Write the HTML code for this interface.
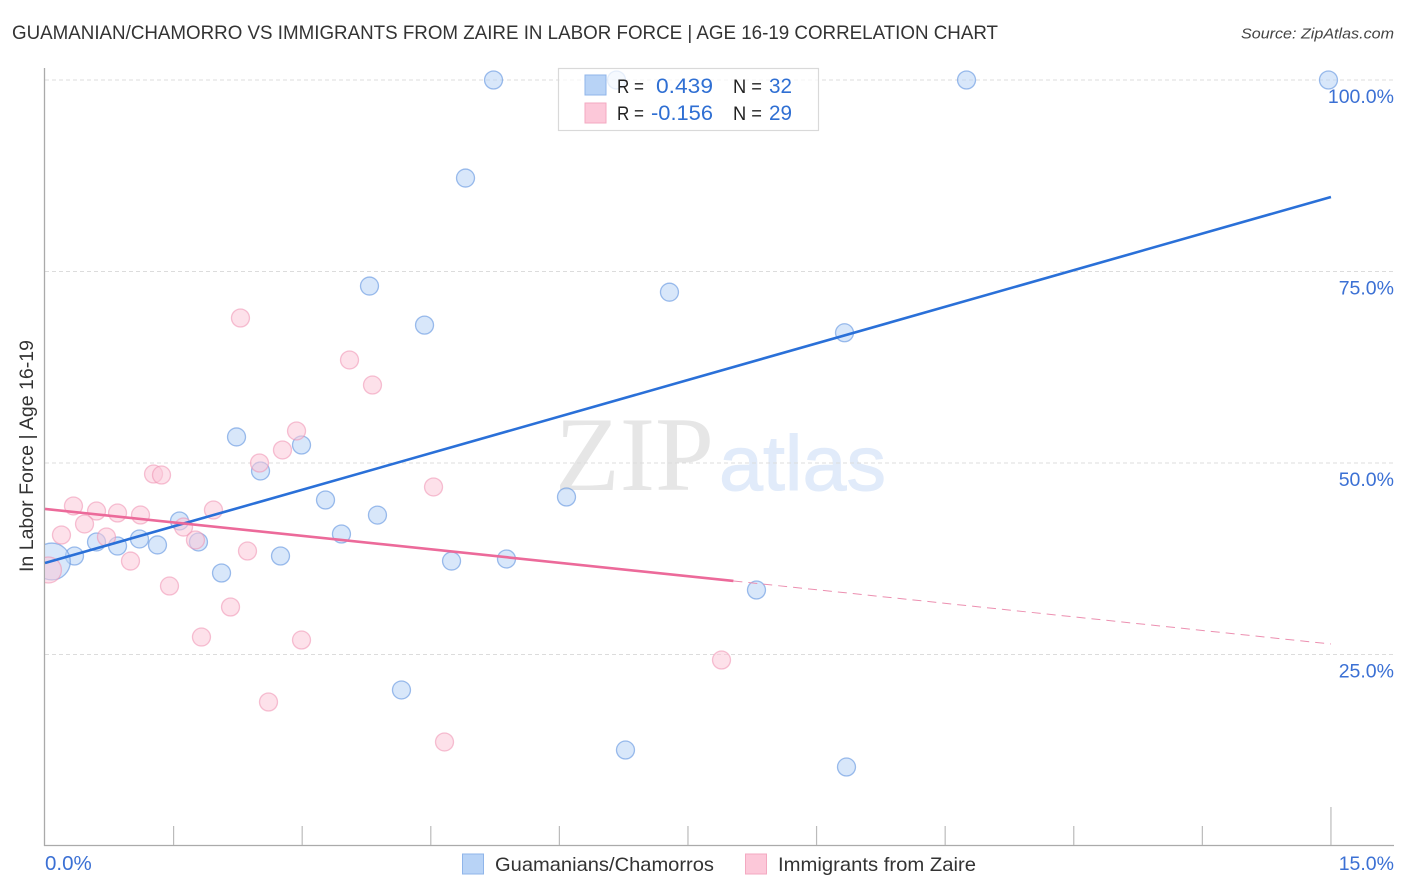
<!DOCTYPE html>
<html>
<head>
<meta charset="utf-8">
<title>Guamanian/Chamorro vs Immigrants from Zaire in Labor Force</title>
<style>
html,body{margin:0;padding:0;background:#fff;width:1406px;height:892px;overflow:hidden}
svg{display:block;font-family:"Liberation Sans",sans-serif}
</style>
</head>
<body>
<svg id="chart" width="1406" height="892" viewBox="0 0 1406 892" xmlns="http://www.w3.org/2000/svg">
  <defs>
    <clipPath id="plot-clip"><rect x="45" y="60" width="1349" height="786"/></clipPath>
  </defs>
  <text x="12" y="39" font-size="19" fill="#333" textLength="986" lengthAdjust="spacingAndGlyphs">GUAMANIAN/CHAMORRO VS IMMIGRANTS FROM ZAIRE IN LABOR FORCE | AGE 16-19 CORRELATION CHART</text>
  <text x="1241" y="38.5" font-size="15" font-style="italic" fill="#444" textLength="153" lengthAdjust="spacingAndGlyphs">Source: ZipAtlas.com</text>

  <g>
    <text x="555" y="490" font-family="'Liberation Serif',serif" font-size="106" fill="#e6e6e6" textLength="159" lengthAdjust="spacingAndGlyphs">ZIP</text>
    <text x="719" y="490" font-size="78" fill="#e1ebfa" stroke="#e1ebfa" stroke-width="1" textLength="167" lengthAdjust="spacingAndGlyphs">atlas</text>
  </g>

  <g id="grid"></g>
  <g id="axes"></g>
  <g id="points" clip-path="url(#plot-clip)"></g>
  <g id="trends"></g>
  <g id="labels"></g>

  <text transform="translate(33,456) rotate(-90)" text-anchor="middle" font-size="19" fill="#333" textLength="232" lengthAdjust="spacingAndGlyphs">In Labor Force | Age 16-19</text>

  <g>
    <rect x="558.5" y="68.5" width="260" height="62" fill="#fff" fill-opacity="0.75" stroke="#d9d9d9" stroke-width="1.2"/>
    <rect x="585" y="75" width="21" height="20" fill="#b8d3f6" stroke="#8fb5ea" stroke-width="1"/>
    <rect x="585" y="103" width="21" height="20" fill="#fcc8d9" stroke="#f3a9c1" stroke-width="1"/>
    <text x="617" y="93" font-size="19" fill="#222" textLength="27" lengthAdjust="spacingAndGlyphs">R =</text>
    <text x="656" y="93" font-size="21" fill="#2f6fd3" textLength="57" lengthAdjust="spacingAndGlyphs">0.439</text>
    <text x="733" y="93" font-size="19" fill="#222" textLength="29" lengthAdjust="spacingAndGlyphs">N =</text>
    <text x="769" y="93" font-size="21" fill="#2f6fd3" textLength="23" lengthAdjust="spacingAndGlyphs">32</text>
    <text x="617" y="120" font-size="19" fill="#222" textLength="27" lengthAdjust="spacingAndGlyphs">R =</text>
    <text x="651" y="120" font-size="21" fill="#2f6fd3" textLength="62" lengthAdjust="spacingAndGlyphs">-0.156</text>
    <text x="733" y="120" font-size="19" fill="#222" textLength="29" lengthAdjust="spacingAndGlyphs">N =</text>
    <text x="769" y="120" font-size="21" fill="#2f6fd3" textLength="23" lengthAdjust="spacingAndGlyphs">29</text>
  </g>

  <g>
    <rect x="462.5" y="854" width="21" height="20" fill="#b8d3f6" stroke="#8fb5ea" stroke-width="1"/>
    <text x="495" y="871" font-size="19.5" fill="#333" textLength="219" lengthAdjust="spacingAndGlyphs">Guamanians/Chamorros</text>
    <rect x="745.5" y="854" width="21" height="20" fill="#fcc8d9" stroke="#f3a9c1" stroke-width="1"/>
    <text x="778" y="871" font-size="19.5" fill="#333" textLength="198" lengthAdjust="spacingAndGlyphs">Immigrants from Zaire</text>
  </g>
</svg>
<script>
const yTicks = [25, 50, 75, 100];
const yTickLabels = ["25.0%", "50.0%", "75.0%", "100.0%"];
const xTicks = [1.5, 3, 4.5, 6, 7.5, 9, 10.5, 12, 13.5, 15];
const xEndLabels = ["0.0%", "15.0%"];
const xEndValues = [0, 15];

const guamX = [5.232, 6.666, 10.749, 14.971, 4.905, 3.785, 7.284, 4.427, 9.326, 2.234, 2.992, 2.514, 3.272, 3.878, 6.083, 1.569, 3.458, 0.601, 0.846, 1.102, 1.312, 1.790, 0.344, 2.747, 4.742, 5.383, 2.059, 8.299, 4.158, 6.771, 9.349, 0.08];
const guamY = [100, 100, 100, 100, 87.2, 73.1, 72.3, 68.0, 67.0, 53.4, 52.35, 48.96, 45.17, 43.2, 45.56, 42.43, 40.73, 39.69, 39.16, 40.08, 39.3, 39.69, 37.86, 37.86, 37.2, 37.47, 35.64, 33.42, 20.37, 12.53, 10.31, 37.14];
const guamWeight = [1, 1, 1, 1, 1, 1, 1, 1, 1, 1, 1, 1, 1, 1, 1, 1, 1, 1, 1, 1, 1, 1, 1, 1, 1, 1, 1, 1, 1, 1, 1, 4.2];

const zaireX = [2.280, 3.552, 3.820, 2.934, 2.770, 2.502, 1.266, 1.359, 4.532, 0.332, 0.601, 0.846, 1.114, 1.965, 0.461, 1.616, 0.192, 0.717, 1.755, 2.362, 0.997, 1.452, 2.164, 1.825, 2.992, 7.891, 2.607, 4.660, 0.04];
const zaireY = [68.93, 63.45, 60.18, 54.18, 51.70, 50.0, 48.56, 48.43, 46.87, 44.39, 43.73, 43.47, 43.21, 43.86, 42.04, 41.64, 40.6, 40.34, 39.95, 38.51, 37.2, 33.94, 31.2, 27.28, 26.89, 24.28, 18.8, 13.58, 36.03];
const zaireWeight = [1, 1, 1, 1, 1, 1, 1, 1, 1, 1, 1, 1, 1, 1, 1, 1, 1, 1, 1, 1, 1, 1, 1, 1, 1, 1, 1, 1, 2.09];

const guamTrendX = [0, 15];
const guamTrendY = [36.95, 84.73];
const zaireSolidX = [0, 8.03];
const zaireSolidY = [44.0, 34.6];
const zaireDashX = [8.03, 15];
const zaireDashY = [34.6, 26.37];

const SVGNS = "http://www.w3.org/2000/svg";
function sx(v) { return 45 + v * 85.73; }
function sy(v) { return 846 - v * 7.66; }
function make(tag, attrs, parent) {
  const el = document.createElementNS(SVGNS, tag);
  Object.keys(attrs).forEach(function (k) { el.setAttribute(k, attrs[k]); });
  parent.appendChild(el);
  return el;
}
const grid = document.getElementById("grid");
const axes = document.getElementById("axes");
const points = document.getElementById("points");
const trends = document.getElementById("trends");
const labels = document.getElementById("labels");

yTicks.forEach(function (t, i) {
  const line = make("line", { x1: 45, x2: 1394, y1: sy(t), y2: sy(t), stroke: "#dcdcdc", "stroke-width": 1, "stroke-dasharray": "4 3" }, grid);
  
  
  const txt = make("text", { x: 1394, y: sy(t) + 23, "text-anchor": "end", "font-size": 19.5, fill: "#3b70d4" }, labels);
  txt.textContent = yTickLabels[i];
  
  
});

const yAxis = make("line", { x1: 44.5, x2: 44.5, y1: 68, y2: 846, stroke: "#aaa", "stroke-width": 1.3 }, axes);


const xAxis = make("line", { x1: 44, x2: 1394, y1: 845.5, y2: 845.5, stroke: "#aaa", "stroke-width": 1.3 }, axes);



xTicks.forEach(function (t) {
  const isLast = t === xTicks[xTicks.length - 1];
  const tick = make("line", { x1: sx(t), x2: sx(t), y1: isLast ? 807 : 826, y2: 845, stroke: "#bbb", "stroke-width": 1.2 }, axes);
  
  
});

xEndValues.forEach(function (v, i) {
  const txt = make("text", { x: i === 0 ? sx(v) : 1394, y: 870, "text-anchor": i === 0 ? "start" : "end", "font-size": i === 0 ? 20.5 : 19.5, fill: "#3b70d4" }, labels);
  txt.textContent = xEndLabels[i];
  
  
});

guamX.forEach(function (v, i) {
  const c = make("circle", { cx: sx(v), cy: sy(guamY[i]), r: 9 * Math.sqrt(guamWeight[i]), fill: "#b8d3f6", "fill-opacity": 0.55, stroke: "#5f93e0", "stroke-opacity": 0.6, "stroke-width": 1.3 }, points);
  
  
});
zaireX.forEach(function (v, i) {
  const c = make("circle", { cx: sx(v), cy: sy(zaireY[i]), r: 9 * Math.sqrt(zaireWeight[i]), fill: "#fcc8d9", "fill-opacity": 0.55, stroke: "#ee8fb0", "stroke-opacity": 0.55, "stroke-width": 1.3 }, points);
  
  
});

const blueLine = make("line", { x1: sx(guamTrendX[0]), y1: sy(guamTrendY[0]), x2: sx(guamTrendX[1]), y2: sy(guamTrendY[1]), stroke: "#2a70d8", "stroke-width": 2.6 }, trends);


const pinkLine = make("line", { x1: sx(zaireSolidX[0]), y1: sy(zaireSolidY[0]), x2: sx(zaireSolidX[1]), y2: sy(zaireSolidY[1]), stroke: "#ec6a9a", "stroke-width": 2.6 }, trends);


const pinkDash = make("line", { x1: sx(zaireDashX[0]), y1: sy(zaireDashY[0]), x2: sx(zaireDashX[1]), y2: sy(zaireDashY[1]), stroke: "#ec8fb0", "stroke-width": 1, "stroke-dasharray": "9 6" }, trends);


</script>
</body>
</html>
